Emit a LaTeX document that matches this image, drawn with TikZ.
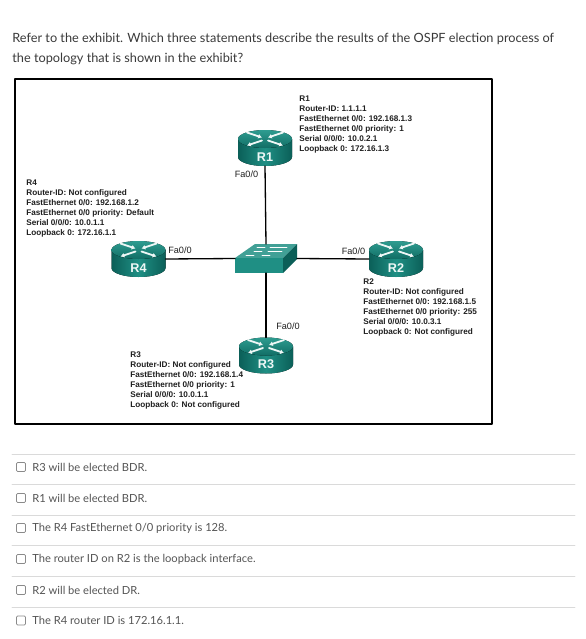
\documentclass[tikz,border=0pt]{standalone}
\usepackage{fontspec}
\setmainfont{Liberation Sans}
\newfontfamily\quizfont{Lato}
\usetikzlibrary{arrows.meta,calc}
\definecolor{Ink}{HTML}{1F1F1F}
\definecolor{QuizInk}{HTML}{3A3A3A}
\definecolor{OptInk}{HTML}{555555}
\definecolor{Rule}{HTML}{DADADA}
\definecolor{BoxLine}{HTML}{8A8A8A}
\definecolor{TealTop}{HTML}{2E9C90}
\definecolor{TealMid}{HTML}{1F8F84}
\definecolor{TealDark}{HTML}{0B5F58}
\tikzset{
  router box/.style={minimum width=1.08cm,minimum height=0.72cm,inner sep=0pt,outer sep=0pt},
  switch box/.style={minimum width=1.24cm,minimum height=0.58cm,inner sep=0pt,outer sep=0pt},
  router name/.style={text=white!92!TealTop,font=\bfseries\fontsize{7.2}{7.2}\selectfont},
  info label/.style={anchor=north west,align=left,text=Ink,inner sep=0pt,font=\bfseries\fontsize{4.66}{5.72}\selectfont},
  port label/.style={text=Ink,inner sep=0pt,font=\fontsize{5.2}{5.2}\selectfont},
  quiz line/.style={anchor=base west,text=QuizInk,inner sep=0pt,font=\quizfont\fontsize{7.25}{7.25}\selectfont},
  option line/.style={anchor=west,text=OptInk,inner sep=0pt,font=\quizfont\fontsize{6.35}{6.35}\selectfont},
  link/.style={draw=black,line width=0.75pt},
  icon arrow/.style={draw=white!92!TealTop,line width=1pt,-{Latex[length=2.2pt,width=2.8pt]}}
}
\newcommand{\DrawRouter}[3]{%
  \node[router box] (#3) at (#1,#2) {};
  \begin{scope}[shift={(#1,#2)}]
    \fill[left color=TealDark,right color=TealDark,middle color=TealMid] (-27,-9) -- (-27,9) arc[start angle=180,end angle=0,x radius=27,y radius=9] -- (27,-9) -- cycle;
    \fill[top color=TealTop,bottom color=TealDark!70!TealMid] (0,-9) ellipse[x radius=27,y radius=9];
    \draw[icon arrow] (-18,-15.5) -- (-3,-10.5);
    \draw[icon arrow] (18,-15.5) -- (3,-10.5);
    \draw[icon arrow] (-3,-7.5) -- (-18,-2.5);
    \draw[icon arrow] (3,-7.5) -- (18,-2.5);
    \node[router name] (#3name) at (0,9) {#3};
  \end{scope}
}
\begin{document}
\begin{tikzpicture}[x=0.02cm,y=-0.02cm,line cap=round,line join=round]
  \useasboundingbox (0,0) rectangle (585,639);
  \fill[white] (0,0) rectangle (585,639);

  \node[quiz line] (q1) at (12,42.5) {Refer to the exhibit. Which three statements describe the results of the OSPF election process of};
  \node[quiz line] (q2) at (12,62) {the topology that is shown in the exhibit?};

  \draw[draw=black,line width=0.9pt] (15,79) rectangle (492,424);

  % Devices
  \DrawRouter{265}{148}{R1}
  \DrawRouter{396}{259}{R2}
  \DrawRouter{266}{355.5}{R3}
  \DrawRouter{138.5}{259}{R4}

  \node[switch box] (sw) at (266,258.5) {};
  \fill[TealMid!85!white] (235,258) -- (255,244) -- (297,244) -- (283,258) -- cycle;
  \fill[TealMid] (235,258) rectangle (283,273);
  \fill[TealDark] (283,258) -- (297,244) -- (297,259) -- (283,273) -- cycle;
  \foreach \xa/\ya/\xb in {257/247/265,270/247/287,254/251/262,268/251/282,246/255/254,262/255/270} {
    \draw[draw=white,line width=0.45pt] (\xa,\ya) -- (\xb,\ya);
  }

  % Links
  \draw[link] (R1.south) -- (sw.north);
  \draw[link] (R4.east) -- (sw.west);
  \draw[link] (sw.east) -- (R2.west);
  \draw[link] (sw.south) -- (R3.north);

  % Port labels
  \node[port label] (portR1) at (246.5,174) {Fa0/0};
  \node[port label] (portR4) at (180,250.5) {Fa0/0};
  \node[port label] (portR2) at (353.5,251) {Fa0/0};
  \node[port label] (portR3) at (288,326) {Fa0/0};

  % Router details
  \node[info label] (infoR1) at (299,95.5) {R1\\Router-ID: 1.1.1.1\\FastEthernet 0/0: 192.168.1.3\\FastEthernet 0/0 priority: 1\\Serial 0/0/0: 10.0.2.1\\Loopback 0: 172.16.1.3};
  \node[info label] (infoR4) at (26,179.5) {R4\\Router-ID: Not configured\\FastEthernet 0/0: 192.168.1.2\\FastEthernet 0/0 priority: Default\\Serial 0/0/0: 10.0.1.1\\Loopback 0: 172.16.1.1};
  \node[info label] (infoR2) at (363,278.5) {R2\\Router-ID: Not configured\\FastEthernet 0/0: 192.168.1.5\\FastEthernet 0/0 priority: 255\\Serial 0/0/0: 10.0.3.1\\Loopback 0: Not configured};
  \node[info label] (infoR3) at (130,351) {R3\\Router-ID: Not configured\\FastEthernet 0/0: 192.168.1.4\\FastEthernet 0/0 priority: 1\\Serial 0/0/0: 10.0.1.1\\Loopback 0: Not configured};

  % Answer options
  \foreach \r in {454,484.5,515,545.5,576,607} {
    \draw[draw=Rule,line width=0.4pt] (12,\r) -- (575,\r);
  }
  \foreach \n/\yy/\txt in {1/467/{R3 will be elected BDR.},2/498/{R1 will be elected BDR.},3/528/{The R4 FastEthernet 0/0 priority is 128.},4/559/{The router ID on R2 is the loopback interface.},5/590/{R2 will be elected DR.},6/620.5/{The R4 router ID is 172.16.1.1.}} {
    \draw[draw=BoxLine,fill=white,line width=0.4pt,rounded corners=0.6pt] (16.5,\yy-4.5) rectangle ++(9,9);
    \node[option line] (opt\n) at (32,\yy) {\txt};
  }
\end{tikzpicture}
\end{document}
